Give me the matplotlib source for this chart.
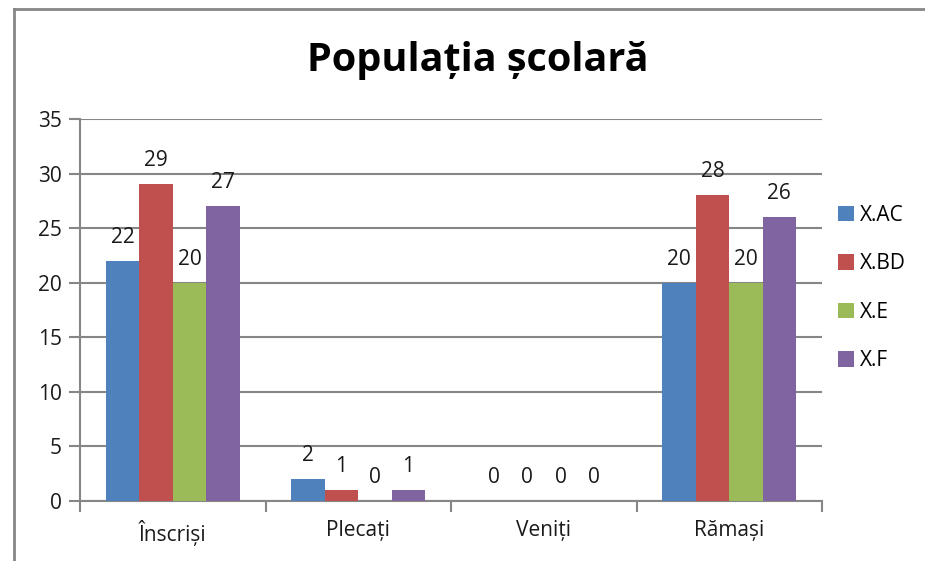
import matplotlib.pyplot as plt
import numpy as np
from matplotlib.lines import Line2D

plt.rcParams['font.family'] = ['Open Sans', 'DejaVu Sans']

categories = ['Înscriși', 'Plecați', 'Veniți', 'Rămași']
series = ['X.AC', 'X.BD', 'X.E', 'X.F']
values = {
    'X.AC': [22, 2, 0, 20],
    'X.BD': [29, 1, 0, 28],
    'X.E': [20, 0, 0, 20],
    'X.F': [27, 1, 0, 26],
}
colors = ['#4F81BD', '#C0504D', '#9BBB59', '#8064A2']
grid_c = '#868686'
txt_c = '#1a1a1a'

fig = plt.figure(figsize=(9.25, 5.61), dpi=100)
ax = fig.add_axes([80 / 925, 1 - 501 / 561, (822 - 80) / 925, (501 - 119) / 561])

# chart area border (only top and left edges are inside the crop)
bx, by = 14 / 925, 1 - 9 / 561
fig.add_artist(Line2D([bx, bx], [0, by], transform=fig.transFigure, color=grid_c, lw=2))
fig.add_artist(Line2D([bx, 1], [by, by], transform=fig.transFigure, color=grid_c, lw=2))

x = np.arange(len(categories))
w = 0.18
for i, s in enumerate(series):
    pos = x + (i - 1.5) * w
    bars = ax.bar(pos, values[s], w, color=colors[i], label=s, zorder=3)
    for b, v in zip(bars, values[s]):
        ax.text(b.get_x() + b.get_width() / 2, v + 1.2, str(v),
                ha='center', va='bottom', fontsize=15, color=txt_c)

ax.set_xlim(-0.5, len(categories) - 0.5)
ax.set_ylim(0, 35)
ax.set_yticks(range(0, 36, 5))
ax.yaxis.grid(True, color=grid_c, lw=1.5, zorder=0)
ax.set_axisbelow(True)
ax.set_xticks(np.arange(-0.5, len(categories)))
ax.set_xticklabels([])
ax.set_xticks(x, minor=True)
ax.set_xticklabels(categories, minor=True)
ax.tick_params(axis='x', which='major', length=8, width=1.5, color=grid_c, direction='out')
ax.tick_params(axis='x', which='minor', length=0, pad=14, labelsize=15, labelcolor=txt_c)
ax.tick_params(axis='y', length=8, width=1.5, color=grid_c, labelsize=15,
               labelcolor=txt_c, pad=5)
for sp in ['top', 'right']:
    ax.spines[sp].set_visible(False)
for sp in ['left', 'bottom']:
    ax.spines[sp].set_color(grid_c)
    ax.spines[sp].set_linewidth(1.5)

fig.text(478 / 925, 1 - 60 / 561, 'Populația școlară', ha='center', va='center',
         fontsize=28.5, fontweight='bold')

fig.legend(loc='center left', bbox_to_anchor=(838 / 925, 1 - 288 / 561), frameon=False,
           fontsize=15, handlelength=0.75, handleheight=0.75, handletextpad=0.3,
           labelspacing=1.32, borderaxespad=0, borderpad=0)

fig.savefig('out.png', dpi=100)
